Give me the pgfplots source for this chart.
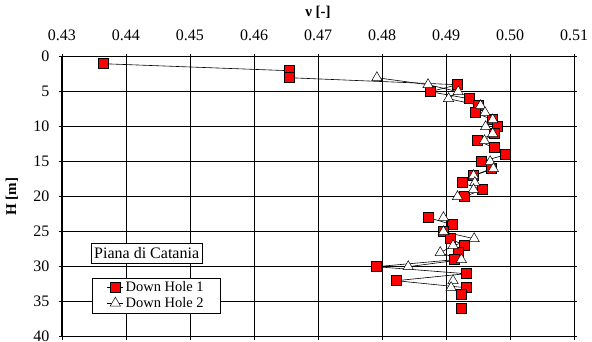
\documentclass[border=0pt]{standalone}
\usepackage{pgfplots}
\pgfplotsset{compat=1.18}
\usepackage{fontspec}
\setmainfont{Liberation Serif}

\pgfplotstableread{
H nu
1 0.4364
2 0.4655
3 0.4655
4 0.4918
5 0.4875
6 0.4936
7 0.4950
8 0.4945
9 0.4973
10 0.4980
11 0.4975
12 0.4949
13 0.4975
14 0.4993
15 0.4955
16 0.4971
17 0.4942
18 0.4925
19 0.4956
20 0.4929
21 nan
23 0.4873
24 0.4910
25 0.4895
26 0.4907
27 0.4929
28 0.4919
29 0.4913
30 0.4791
31 0.4931
32 0.4822
33 0.4931
34 0.4924
35 nan
36 0.4924
}\dhone

\pgfplotstableread{
H nu
3 0.4792
4 0.4872
5 0.4919
6 0.4904
7 0.4954
8 0.4961
9 0.4973
10 0.4962
11 0.4973
12 0.4960
13 nan
15 0.4969
16 0.4974
17 0.4943
18 0.4945
19 0.4943
20 0.4918
21 nan
23 0.4896
24 nan
25 0.4896
26 0.4944
27 0.4911
28 0.4891
29 0.4924
30 0.4841
31 nan
32 0.4911
33 0.4908
}\dhtwo

\begin{document}
\begin{tikzpicture}
\begin{axis}[
  at={(0,0)}, anchor=south west,
  scale only axis, width=512bp, height=280bp,
  xmin=0.43, xmax=0.51, ymin=0, ymax=40,
  y dir=reverse,
  xtick={0.43,0.44,0.45,0.46,0.47,0.48,0.49,0.50,0.51},
  ytick={0,5,10,15,20,25,30,35,40},
  xticklabel pos=right,
  xticklabel style={/pgf/number format/.cd, fixed, fixed zerofill, precision=2},
  /pgf/number format/assume math mode=true,
  tick label style={font=\fontsize{16bp}{18bp}\selectfont, black},
  xticklabel shift=9bp,
  yticklabel shift=6bp,
  grid=major,
  grid style={black, line width=0.7bp},
  axis line style={black, line width=1bp},
  tick style={black, line width=0.7bp},
  tick align=outside, major tick length=3bp,
  xlabel={\textbf{ν [-]}},
  ylabel={\textbf{H [m]}},
  xlabel style={at={(axis description cs:0.5,1)}, anchor=center, yshift=44bp},
  ylabel style={at={(axis description cs:0,0.5)}, anchor=center, yshift=50bp},
  label style={font=\fontsize{15bp}{17bp}\selectfont},
  unbounded coords=jump,
  legend style={at={(0.058,0.0836)}, anchor=south west, draw=black, line width=0.7bp,
    font=\fontsize{14.5bp}{17bp}\selectfont, fill=white, inner xsep=15bp, inner ysep=2bp,
    row sep=0bp},
  legend cell align=left,
  legend image code/.code={\draw[#1, mark repeat=2, mark phase=2] plot coordinates {(0bp,0bp) (8bp,0bp) (16bp,0bp)};},
]
\addplot[black, line width=0.6bp, mark=square*, mark size=5bp,
  mark options={fill=red, draw=black, line width=0.5bp}] table[x=nu, y=H] {\dhone};
\addlegendentry{Down Hole 1}
\addplot[black, line width=0.6bp, mark=triangle*, mark size=6bp,
  mark options={fill=white, draw=black, line width=0.5bp}] table[x=nu, y=H] {\dhtwo};
\addlegendentry{Down Hole 2}
\node[draw=black, fill=white, line width=0.7bp, font=\fontsize{16bp}{18bp}\selectfont,
  inner xsep=3bp, inner ysep=4bp] at (axis cs:0.44323,28.1) {Piana di Catania};
\end{axis}
\pgfresetboundingbox
\path (-62bp,-5.3bp) rectangle (530bp,336.7bp);
\end{tikzpicture}
\end{document}
